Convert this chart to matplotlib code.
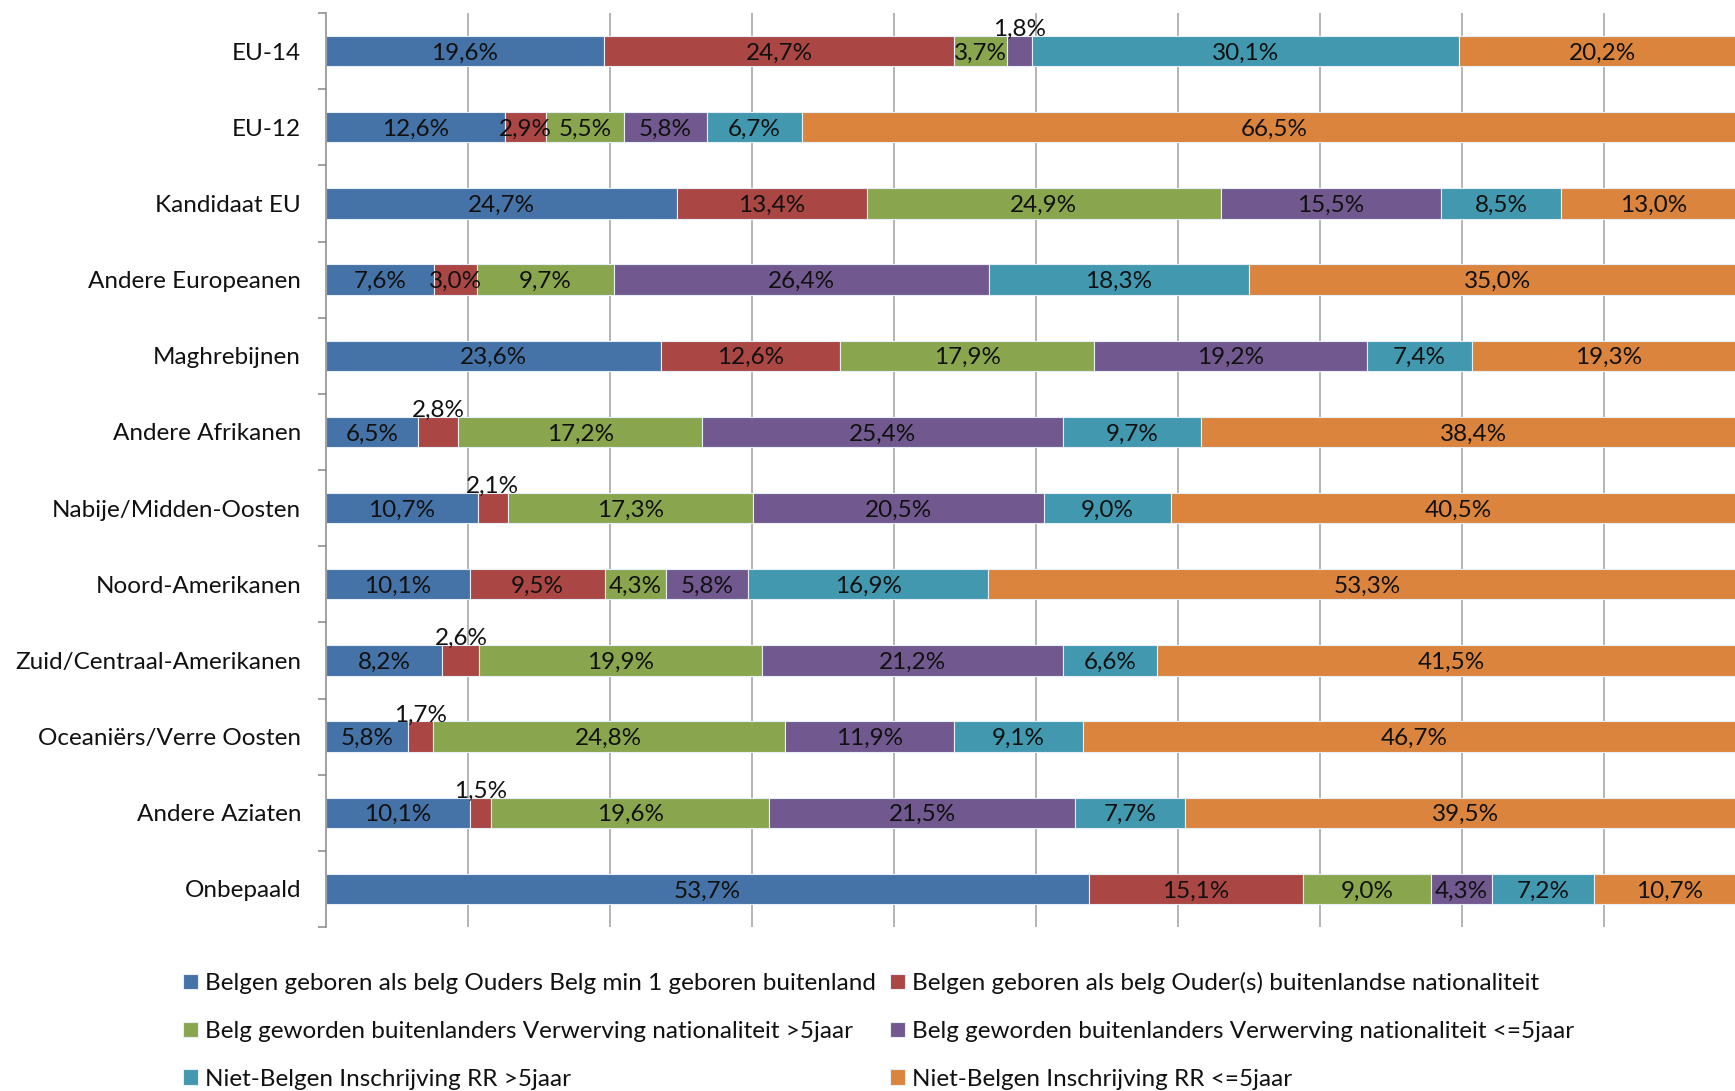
import numpy as np
import matplotlib.pyplot as plt
from matplotlib.ticker import FixedLocator, NullFormatter

plt.rcParams['font.family'] = ['Lato', 'DejaVu Sans']

categories = ['EU-14', 'EU-12', 'Kandidaat EU', 'Andere Europeanen', 'Maghrebijnen',
              'Andere Afrikanen', 'Nabije/Midden-Oosten', 'Noord-Amerikanen',
              'Zuid/Centraal-Amerikanen', 'Oceaniërs/Verre Oosten', 'Andere Aziaten', 'Onbepaald']

series_names = ['Belgen geboren als belg Ouders Belg min 1 geboren buitenland',
                'Belgen geboren als belg Ouder(s) buitenlandse nationaliteit',
                'Belg geworden buitenlanders Verwerving nationaliteit >5jaar',
                'Belg geworden buitenlanders Verwerving nationaliteit <=5jaar',
                'Niet-Belgen Inschrijving RR >5jaar',
                'Niet-Belgen Inschrijving RR <=5jaar']

belg_ouders_belg = [19.6, 12.6, 24.7, 7.6, 23.6, 6.5, 10.7, 10.1, 8.2, 5.8, 10.1, 53.7]
belg_ouders_buitenl = [24.7, 2.9, 13.4, 3.0, 12.6, 2.8, 2.1, 9.5, 2.6, 1.7, 1.5, 15.1]
geworden_gt5 = [3.7, 5.5, 24.9, 9.7, 17.9, 17.2, 17.3, 4.3, 19.9, 24.8, 19.6, 9.0]
geworden_le5 = [1.8, 5.8, 15.5, 26.4, 19.2, 25.4, 20.5, 5.8, 21.2, 11.9, 21.5, 4.3]
niet_belg_gt5 = [30.1, 6.7, 8.5, 18.3, 7.4, 9.7, 9.0, 16.9, 6.6, 9.1, 7.7, 7.2]
niet_belg_le5 = [20.2, 66.5, 13.0, 35.0, 19.3, 38.4, 40.5, 53.3, 41.5, 46.7, 39.5, 10.7]

# labels that sit above the bar instead of inside it (category, series)
above = {(0, 3), (5, 1), (6, 1), (8, 1), (9, 1), (10, 1)}

colors = ['#4572A7', '#AA4643', '#89A54E', '#71588F', '#4198AF', '#DB843D']

raw = [belg_ouders_belg, belg_ouders_buitenl, geworden_gt5,
       geworden_le5, niet_belg_gt5, niet_belg_le5]
data = np.array(raw)
data = data / data.sum(axis=0) * 100

fig = plt.figure(figsize=(17.35, 10.91), dpi=100)
ax = fig.add_axes([326 / 1735, 1 - 927 / 1091, 1420 / 1735, 914 / 1091])

y = np.arange(len(categories))
left = np.zeros(len(categories))
handles = []
for i, name in enumerate(series_names):
    bars = ax.barh(y, data[i], left=left, height=0.4, color=colors[i],
                   edgecolor='#e8eef5', linewidth=0.8, label=name, zorder=2)
    handles.append(bars)
    for j, v in enumerate(raw[i]):
        cx = left[j] + data[i][j] / 2
        txt = ('%.1f%%' % v).replace('.', ',')
        ty = y[j] - 0.31 if (j, i) in above else y[j]
        ax.text(cx, ty, txt, ha='center', va='center_baseline', fontsize=17.5,
                color='#111111', zorder=3)
    left += data[i]

ax.set_xlim(0, 100)
ax.set_ylim(len(categories) - 0.5, -0.5)
ax.set_xticks(np.arange(10, 101, 10))
ax.xaxis.set_major_formatter(NullFormatter())
ax.tick_params(axis='x', length=0)
ax.grid(axis='x', color='#a0a0a0', linewidth=1.1, zorder=0)
ax.set_axisbelow(True)

ax.set_yticks(y)
ax.set_yticklabels(categories, fontsize=17.5, color='#111111')
ax.tick_params(axis='y', which='major', length=0, pad=18)
ax.yaxis.set_minor_locator(FixedLocator(np.arange(-0.5, len(categories), 1)))
ax.tick_params(axis='y', which='minor', length=6, color='#888888', width=1.1)

for s in ['top', 'right', 'bottom']:
    ax.spines[s].set_visible(False)
ax.spines['left'].set_color('#888888')
ax.spines['left'].set_linewidth(1.1)

order = [0, 2, 4, 1, 3, 5]
fig.legend([handles[k] for k in order], [series_names[k] for k in order],
           loc='upper left', bbox_to_anchor=(183 / 1735, 1 - 972 / 1091), ncol=2,
           frameon=False, fontsize=17.5, handlelength=0.6, handleheight=0.6,
           handletextpad=0.3, columnspacing=0.6, labelspacing=1.1,
           borderpad=0, borderaxespad=0, labelcolor='#111111')

fig.savefig('out.png', dpi=100)
